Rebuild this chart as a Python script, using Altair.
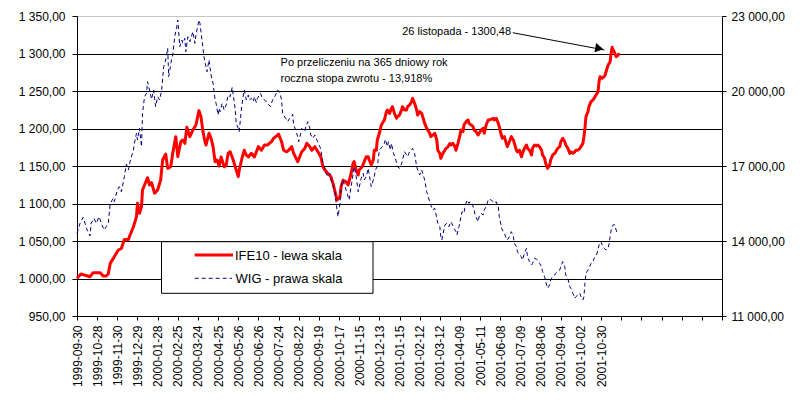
import altair as alt
import pandas as pd

# ---------------- data ----------------
date_labels = [
    "1999-09-30", "1999-10-28", "1999-11-30", "1999-12-29", "2000-01-28", "2000-02-25",
    "2000-03-24", "2000-04-25", "2000-05-26", "2000-06-26", "2000-07-24", "2000-08-22",
    "2000-09-19", "2000-10-17", "2000-11-15", "2000-12-13", "2001-01-15", "2001-02-12",
    "2001-03-12", "2001-04-09", "2001-05-11", "2001-06-08", "2001-07-09", "2001-08-06",
    "2001-09-04", "2001-10-02", "2001-10-30",
]

left_ticks = [950, 1000, 1050, 1100, 1150, 1200, 1250, 1300, 1350]
right_ticks = [11000, 14000, 17000, 20000, 23000]

# IFE10 (left scale), session index -> value
ife_idx = [
    0, 4, 13, 16, 23, 26, 29, 31, 33, 37, 41, 44, 47, 51, 52, 56, 59, 60, 62, 64,
    65, 67, 70, 72, 74, 77, 80, 83, 85, 88, 90, 93, 95, 98, 100, 103, 105, 107, 109, 112,
    115, 118, 121, 123, 125, 127, 128, 131, 133, 135, 137, 139, 141,
    143, 146, 148, 150, 152, 155, 157, 160, 161, 164, 166, 168, 170, 173, 176, 178, 180, 183,
    186, 189, 193, 195, 198, 200, 203, 205, 208, 210, 213, 215, 219, 221, 223, 226, 228, 231,
    233, 236, 239, 242, 244, 246, 249, 252, 254, 256, 258, 261, 262, 264, 267, 269, 272, 274, 275,
    277, 279, 280, 283, 285, 287, 289, 290, 292, 294, 295, 297, 298, 300, 302, 303, 305, 307,
    308, 310, 312, 313, 315, 317, 318, 320, 322, 323, 325, 327, 328, 330, 332, 333, 335, 337,
    338, 340, 342, 343, 345, 347, 348, 350, 351, 353, 355, 357, 358, 360, 361, 363, 365, 366,
    368, 370, 371, 373, 375, 376, 378, 380, 381, 383, 384, 386, 388, 389, 391, 393, 394, 396,
    398, 399, 401, 403, 404, 406, 408, 409, 411, 413, 414, 416, 418,
    419, 421, 422, 424, 426, 427, 429, 431, 433, 434, 436, 437, 439, 441, 442, 444, 446, 447,
    449, 451, 452, 454, 456, 457, 459, 461, 462, 464, 465, 467, 469, 470, 472, 474, 475, 477,
    479, 480, 482, 484, 485, 487, 489, 490, 492, 494, 495, 497, 499, 500, 502, 503, 504, 505,
    507, 508, 510, 512, 513, 515, 517, 518, 519, 521, 523, 524, 526, 527, 529, 530, 531, 532,
    533, 535, 537, 538,
]
ife_val = [
    1000.2, 1006.0, 1002.4, 1007.8, 1007.8, 1003.3, 1003.3, 1006.0, 1020.2, 1029.0, 1038.0, 1040.0, 1052.0, 1052.0, 1055.8, 1069.0, 1082.4, 1100.2, 1087.0, 1095.8,
    1118.0, 1124.7, 1134.4, 1124.7, 1127.8, 1113.6, 1118.0, 1131.3, 1158.0, 1166.0, 1146.9, 1149.0, 1166.9, 1189.1, 1162.4, 1182.4, 1184.7, 1180.2, 1201.6, 1189.1,
    1198.0, 1204.7, 1223.8, 1215.8, 1195.8, 1182.4, 1178.0, 1193.6, 1186.9, 1175.8, 1155.8, 1158.0, 1150.0,
    1162.0, 1149.0, 1151.0, 1167.0, 1169.0, 1158.0, 1149.0, 1135.8, 1144.7, 1162.0, 1171.0, 1164.4, 1162.0, 1166.9, 1162.0, 1169.0, 1175.8, 1171.0,
    1178.0, 1178.0, 1182.4, 1186.9, 1190.0, 1192.7, 1182.4, 1171.0, 1168.9, 1171.0, 1175.8, 1166.9, 1155.8, 1162.4, 1169.0, 1173.3, 1180.2, 1175.8,
    1171.0, 1175.8, 1168.9, 1162.0, 1149.0, 1144.7, 1140.0, 1135.6, 1126.9, 1115.8, 1104.7, 1109.1, 1122.4, 1131.0, 1128.9, 1124.7, 1140.0, 1153.6, 1155.8,
    1144.7, 1138.0, 1144.7, 1149.0, 1155.8, 1162.4, 1162.4, 1158.0, 1151.3, 1158.0, 1171.0, 1171.0, 1184.7, 1193.6, 1204.7, 1206.9, 1211.3, 1222.4,
    1224.7, 1220.2, 1226.9, 1229.1, 1220.2, 1213.6, 1215.8, 1218.0, 1224.7, 1229.1, 1224.7, 1224.7, 1229.1, 1231.3, 1235.8, 1240.2, 1233.6, 1224.7,
    1218.0, 1222.4, 1220.2, 1215.8, 1206.9, 1200.2, 1198.0, 1193.6, 1189.1, 1191.3, 1193.6, 1184.7, 1171.0, 1166.7, 1160.2, 1166.9, 1171.0, 1173.3,
    1175.6, 1180.0, 1178.0, 1180.2, 1175.8, 1171.0, 1180.2, 1191.3, 1198.0, 1195.8, 1204.7, 1209.1, 1211.3, 1206.9, 1204.7, 1202.4, 1198.0, 1195.8,
    1191.3, 1193.6, 1198.0, 1200.2, 1193.6, 1204.7, 1211.3, 1211.3, 1212.4, 1213.6, 1211.3, 1213.6, 1206.9,
    1202.4, 1191.3, 1186.9, 1189.1, 1180.2, 1175.8, 1182.4, 1189.1, 1184.7, 1180.2, 1171.0, 1168.9, 1171.0, 1162.4, 1166.9, 1173.6, 1178.0, 1173.6,
    1171.0, 1164.7, 1173.6, 1178.0, 1176.7, 1178.0, 1175.8, 1171.0, 1164.7, 1160.2, 1153.6, 1146.9, 1151.3, 1158.0, 1164.7, 1166.9, 1169.0, 1173.6,
    1175.8, 1182.4, 1186.9, 1182.4, 1178.0, 1173.6, 1166.9, 1169.0, 1166.9, 1169.0, 1171.0, 1171.0, 1173.6, 1175.8, 1180.2, 1189.1, 1200.2, 1215.8,
    1222.4, 1229.1, 1235.8, 1238.0, 1240.2, 1244.7, 1249.1, 1262.4, 1269.1, 1266.9, 1269.1, 1271.3, 1280.2, 1284.7, 1289.1, 1300.2, 1308.2, 1304.7,
    1302.4, 1295.8, 1298.0, 1300.5,
]

# WIG (right scale), session index -> value
wig_idx = [
    0, 3, 6, 8, 10, 13, 14, 17, 19, 22, 24, 27, 29, 31, 33, 36, 37, 40, 42, 44,
    47, 49, 51, 53, 56, 57, 59, 60, 62, 64, 65, 67, 69, 70, 72, 74, 76, 78, 80, 82,
    84, 86, 88, 90, 91, 94, 95, 97, 99, 100, 102, 104, 105, 107, 108, 110, 112, 114, 115, 117,
    118, 121, 122, 124, 126, 128, 129, 131, 133, 135, 137, 138, 140, 141,
    142, 144, 146, 148, 150, 152, 154, 156, 157, 158, 160, 161, 163, 165, 166, 168, 170, 171,
    173, 175, 176, 178, 179, 182, 184, 187, 189, 192, 194, 197, 199, 201, 203, 204, 207, 209,
    211, 213, 214, 215, 217, 219, 220, 222, 223, 226, 227, 229, 231, 232, 234, 236, 238, 241,
    242, 244, 246, 247, 249, 251, 252, 254, 256, 257, 258, 259, 261, 262, 264, 265, 267, 269,
    270, 272, 274, 275, 277, 279,
    282, 284, 285, 287, 289, 290, 292, 295, 296, 298, 300, 303, 305, 306, 308, 309, 311, 312,
    314, 316, 318, 320, 322, 323, 325, 327, 328, 330, 332, 333, 335, 337, 338, 340, 342, 343,
    345, 347, 348, 350, 351, 353, 355, 357, 358, 360, 361, 362, 364, 365, 367, 369, 371, 372,
    374, 376, 377, 379, 381, 382, 384, 385, 387, 389, 390, 392, 394, 395, 398, 399, 401, 403,
    404, 406, 408, 409, 411, 413, 414, 416, 418,
    419, 421, 422, 424, 426, 427, 429, 431, 433, 434, 436, 437, 439, 441, 442, 444, 446, 447,
    449, 451, 452, 454, 456, 457, 459, 461, 462, 464, 465, 467, 469, 470, 472, 474, 475, 477,
    479, 480, 482, 484, 485, 487, 489, 490, 492, 494, 495, 497, 499, 500, 502, 503, 504, 505,
    507, 508, 510, 512, 513, 515, 517, 518, 520, 521, 523, 525, 527, 528, 529, 530, 531, 532,
    533, 535, 536,
]
wig_val = [
    14307, 14707, 14947, 14707, 14440, 14200, 14707, 14907, 14707, 14973, 14707, 14440, 14573, 14707, 15507, 15707, 15573, 16040, 16173, 15973,
    16573, 17080, 16840, 17240, 17640, 17907, 18307, 18040, 18507, 17773, 19107, 19773, 19907, 20373, 20040, 19667, 20040, 19373, 19773, 19640,
    20040, 20973, 21240, 21707, 20573, 21307, 21440, 22173, 22573, 22840, 21773, 22040, 21907, 22107, 21573, 22173, 21973, 22240, 22373, 21907,
    22240, 22840, 22707, 22040, 21373, 20973, 20773, 21240, 20640, 20307, 19640, 19507, 19040, 19307,
    19173, 19507, 19240, 19440, 19840, 19773, 20147, 19573, 19240, 18707, 18507, 18373, 19240, 19840, 20040, 19640, 19840, 19640,
    19707, 19573, 19773, 19533, 19707, 19907, 19707, 19613, 19507, 19373, 19640, 19840, 20040, 19973, 19640, 19107, 18907, 18773,
    18907, 18973, 19067, 18640, 18440, 18173, 17973, 18307, 18507, 18373, 18573, 18773, 18507, 18240, 18107, 18240, 18040, 17773,
    17640, 17107, 16907, 16707, 16573, 16707, 16440, 16240, 15973, 15573, 15240, 14973, 15507, 16173, 16440, 16307, 16040, 15773,
    15640, 16173, 16707, 16973, 16573, 15973,
    16507, 16707, 16440, 16573, 16907, 16640, 16173, 16573, 16840, 16973, 17640, 17773, 17907, 18067, 17773, 17973, 17640, 17907,
    17507, 17307, 16973, 16907, 17080, 17240, 17573, 17440, 17373, 17573, 17640, 17707, 17507, 16973, 16840, 16640, 16840, 16707,
    16440, 15973, 15840, 15573, 15440, 15240, 15307, 14907, 14707, 14573, 14173, 14040, 14440, 14640, 14707, 14573, 14773, 14707,
    14507, 14373, 14240, 14573, 14973, 15173, 15107, 15373, 15640, 15507, 15573, 15507, 15240, 15040, 14773, 14973, 15107, 15040,
    15240, 15373, 15640, 15680, 15640, 15573, 15507, 15573, 15373,
    14973, 14573, 14440, 14307, 14107, 14040, 14173, 14373, 14173, 13907, 13773, 13573, 13440, 13373, 13240, 13507, 13707, 13373,
    13173, 13040, 13107, 13307, 13267, 13240, 13107, 12973, 12773, 12573, 12373, 12107, 12240, 12440, 12573, 12640, 12707, 12773,
    12840, 12973, 13173, 12973, 12640, 12507, 12173, 12107, 11907, 11707, 11773, 11840, 11907, 11773, 11640, 11773, 12307, 12707,
    12840, 12907, 13107, 13173, 13307, 13373, 13640, 13840, 13973, 13840, 13707, 13640, 13707, 13907, 14173, 14440, 14573, 14640,
    14667, 14440, 14280,
]

series_names = ["IFE10 - lewa skala", "WIG - prawa skala"]

ann_idx = [322.7, 202.0, 202.0]
ann_val = [1329.1, 1286.9, 1266.0]
ann_text = ["26 listopada - 1300,48", "Po przeliczeniu na 365 dniowy rok", "roczna stopa zwrotu - 13,918%"]

arrow_idx = [432.4, 523.3]
arrow_val = [1327.7, 1304.7]

# ---------------- frames ----------------
ife = pd.DataFrame({"sesja": ife_idx, "IFE10": ife_val})
wig = pd.DataFrame({"sesja": wig_idx, "WIG": wig_val})
ann = pd.DataFrame({"sesja": ann_idx, "v": ann_val, "t": ann_text})
arrow = pd.DataFrame({"s1": [arrow_idx[0]], "v1": [arrow_val[0]], "s2": [arrow_idx[1]], "v2": [arrow_val[1]]})
head = pd.DataFrame({"sesja": [518.3], "v": [1306.7]})
dummy = pd.DataFrame({"k": [0]})

FONT = "Liberation Sans"
label_expr_x = "[" + ",".join("'%s'" % d for d in date_labels) + "][datum.value / 20] || ''"
num_expr = "replace(replace(format(datum.value, ',.2f'), ',', ' '), '.', ',')"

x_scale = alt.Scale(domain=[0, 640], nice=False, zero=False)
x_axis = alt.Axis(
    values=list(range(0, 641, 20)), labelExpr=label_expr_x, labelAngle=270,
    labelAlign="right", labelBaseline="middle", labelOverlap=False, labelFlush=False,
    labelPadding=5, tickSize=4, tickColor="black", domainColor="black", grid=False,
    title=None, labelFont=FONT, labelFontSize=12, labelColor="black",
)
yl_scale = alt.Scale(domain=[950, 1350], nice=False, zero=False)
yl_axis = alt.Axis(
    orient="left", values=left_ticks, labelExpr=num_expr, grid=True,
    gridColor={"condition": {"test": "datum.value == 1350", "value": "#8c8c8c"}, "value": "black"},
    gridDash={"condition": {"test": "datum.value == 1350", "value": [1, 1]}, "value": []},
    gridWidth=1, tickSize=5, tickColor="black", domainColor="black", labelPadding=7,
    labelFlush=False, title=None, labelFont=FONT, labelFontSize=12, labelColor="black",
)
yr_scale = alt.Scale(domain=[11000, 23000], nice=False, zero=False)
yr_axis = alt.Axis(
    orient="right", values=right_ticks, labelExpr=num_expr, grid=False,
    tickSize=4, tickColor="black", domainColor="black", labelPadding=5,
    labelFlush=False, title=None, labelFont=FONT, labelFontSize=12, labelColor="black",
)

X = alt.X("sesja:Q", scale=x_scale, axis=x_axis)

red = alt.Chart(ife).mark_line(color="#ff0000", strokeWidth=3, strokeJoin="round").encode(
    x=X, y=alt.Y("IFE10:Q", scale=yl_scale, axis=yl_axis)
)
texts = alt.Chart(ann).mark_text(
    align="left", baseline="middle", font=FONT, fontSize=11, color="black"
).encode(x=X, y=alt.Y("v:Q", scale=yl_scale, axis=yl_axis), text="t:N")
arrow_line = alt.Chart(arrow).mark_rule(color="black", strokeWidth=1).encode(
    x=alt.X("s1:Q", scale=x_scale, axis=x_axis), x2="s2:Q",
    y=alt.Y("v1:Q", scale=yl_scale, axis=yl_axis), y2="v2:Q",
)
arrow_head = alt.Chart(head).mark_point(
    shape="triangle-right", filled=True, color="black", size=90, angle=11, opacity=1
).encode(x=X, y=alt.Y("v:Q", scale=yl_scale, axis=yl_axis))

left = alt.layer(red, texts, arrow_line, arrow_head)

blue = alt.Chart(wig).mark_line(color="#000080", strokeWidth=1, strokeDash=[4, 3]).encode(
    x=X, y=alt.Y("WIG:Q", scale=yr_scale, axis=yr_axis)
)

# legend box
box = alt.Chart(dummy).mark_rect(fill="white", stroke="black", strokeWidth=1).encode(
    x=alt.value(84.5), x2=alt.value(296), y=alt.value(225.7), y2=alt.value(277.3)
)
leg_red = alt.Chart(dummy).mark_rule(color="#ff0000", strokeWidth=3).encode(
    x=alt.value(117.7), x2=alt.value(156), y=alt.value(239)
)
leg_blue = alt.Chart(dummy).mark_rule(color="#000080", strokeWidth=1, strokeDash=[4, 3]).encode(
    x=alt.value(117.7), x2=alt.value(155), y=alt.value(262.3)
)
leg_t1 = alt.Chart(dummy).mark_text(align="left", baseline="middle", font=FONT, fontSize=13, color="black").encode(
    x=alt.value(158), y=alt.value(239.5), text=alt.value(series_names[0])
)
leg_t2 = alt.Chart(dummy).mark_text(align="left", baseline="middle", font=FONT, fontSize=13, color="black").encode(
    x=alt.value(158.5), y=alt.value(262.8), text=alt.value(series_names[1])
)
legend = alt.layer(box, leg_red, leg_blue, leg_t1, leg_t2)

chart = alt.layer(left, blue, legend).resolve_scale(y="independent").properties(
    width=645, height=300, autosize="none",
    padding={"left": 69, "top": 8, "right": 70, "bottom": 80},
    background="white",
).configure_view(stroke="transparent")

chart.save("out.html", embed_options={"renderer": "svg", "actions": False})
